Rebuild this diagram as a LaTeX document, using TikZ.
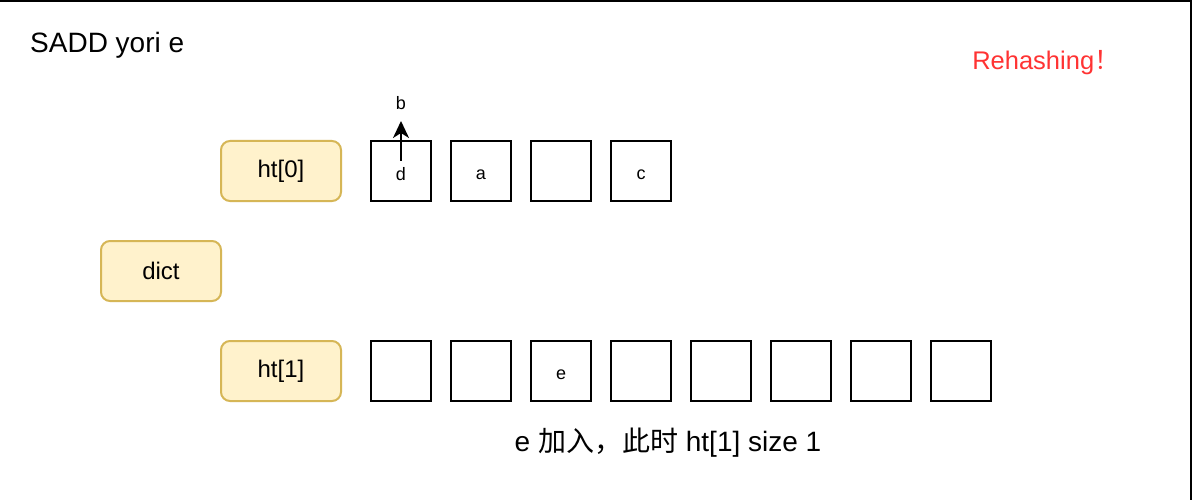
\documentclass[tikz,border=0pt]{standalone}
\usepackage{fontspec}
\setmainfont{Liberation Sans}
\newfontfamily\cjk{Noto Sans CJK SC}
\usetikzlibrary{arrows.meta}
\definecolor{ybox}{HTML}{FFF2CC}
\definecolor{yline}{HTML}{D6B656}
\definecolor{redtxt}{HTML}{FF3333}
\begin{document}
\begin{tikzpicture}[x=1pt,y=-1pt,
  label box/.style={draw=yline,fill=ybox,line width=2pt,rounded corners=9pt,
    minimum width=120pt,minimum height=60pt,inner sep=0pt,font=\fontsize{24}{28}\selectfont},
  slot/.style={draw=black,line width=2pt,minimum width=60pt,minimum height=60pt,
    inner sep=0pt},
  small/.style={inner sep=0pt,font=\fontsize{18}{21}\selectfont}]
\useasboundingbox (0,0) rectangle (1192,500);
\fill[white] (0,0) rectangle (1192,500);
\draw[line width=2pt] (0,1) -- (1191,1) -- (1191,500);
\node[anchor=west,inner sep=0pt,font=\fontsize{28}{32}\selectfont] (title) at (30,45) {SADD yori e};
\node[inner sep=0pt,text=redtxt,font=\fontsize{25.5}{30}\selectfont] (rh) at (1046,63) {Rehashing{\cjk ！}};
\node[label box] (ht0) at (281,171) {ht[0]};
\node[label box] (dict) at (161,271) {dict};
\node[label box] (ht1) at (281,371) {ht[1]};
% ht[0] slots
\node[slot] (s00) at (401,171) {};
\node[slot] (s01) at (481,171) {};
\node[slot] (s02) at (561,171) {};
\node[slot] (s03) at (641,171) {};
\node[small] (d) at (401,174) {d};
\node[small] (a) at (481,175) {a};
\node[small] (c) at (641,175) {c};
\node[small] (b) at (401,103) {b};
\coordinate (dstart) at (401,161);
\coordinate (btip) at (401,121);
\draw[line width=2pt,-{Stealth[length=17pt,width=16pt,inset=5pt]}] (dstart) -- (btip);
% ht[1] slots
\foreach \i in {0,...,7}{
  \node[slot] (s1\i) at (401+80*\i,371) {};
}
\node[small] (e) at (561,374.5) {e};
\node[inner sep=0pt,font=\fontsize{28}{32}\selectfont] (note) at (668,443) {e {\cjk 加入，此时} ht[1] size 1};
\end{tikzpicture}
\end{document}
